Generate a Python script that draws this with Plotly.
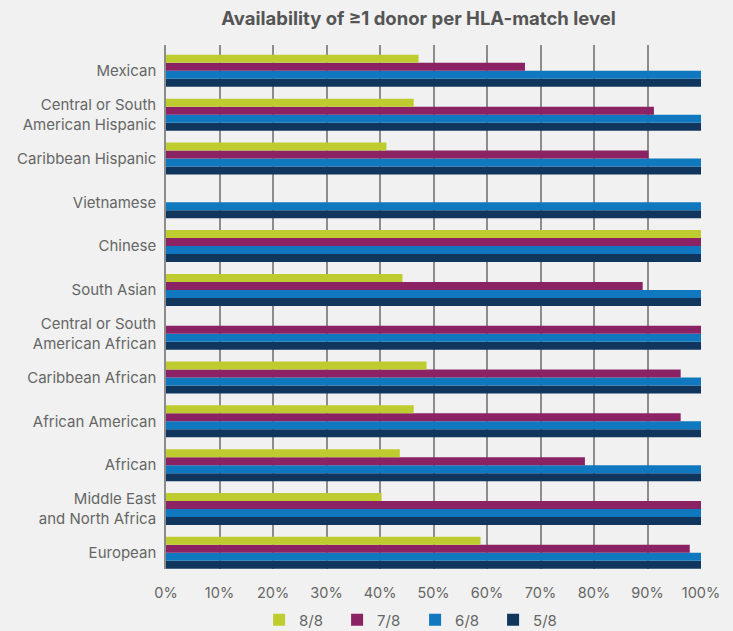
import plotly.graph_objects as go

categories = ["Mexican", "Central or South<br>American Hispanic", "Caribbean Hispanic",
              "Vietnamese", "Chinese", "South Asian", "Central or South<br>American African",
              "Caribbean African", "African American", "African",
              "Middle East<br>and North Africa", "European"]

m88 = [47.2, 46.3, 41.2, 0, 100, 44.2, 0, 48.7, 46.3, 43.7, 40.3, 58.8]
m78 = [67.1, 91.2, 90.2, 0, 100, 89.1, 100, 96.2, 96.2, 78.3, 100, 97.9]
m68 = [100, 100, 100, 100, 100, 100, 100, 100, 100, 100, 100, 100]
m58 = [100, 100, 100, 100, 100, 100, 100, 100, 100, 100, 100, 100]

series = [("5/8", m58, "#10365e"), ("6/8", m68, "#0f78be"),
          ("7/8", m78, "#8a2264"), ("8/8", m88, "#bfcc2f")]

cats_rev = categories[::-1]
fig = go.Figure()
for name, vals, color in series:
    fig.add_trace(go.Bar(
        y=cats_rev, x=[v / 100 for v in vals[::-1]], name=name, orientation="h",
        marker=dict(color=color, line=dict(width=0)),
    ))

font_family = "Inter, Roboto, sans-serif"
fig.update_layout(
    width=733, height=631,
    paper_bgcolor="#f0f1f0", plot_bgcolor="#f0f1f0",
    barmode="group", bargap=0.27, bargroupgap=0,
    margin=dict(l=166, r=32, t=45, b=62, autoexpand=False),
    title=dict(text="<b>Availability of ≥1 donor per HLA-match level</b>",
               x=(418.5 - 166) / 535, xref="paper", xanchor="center",
               y=1 - 18.5 / 631, yanchor="middle",
               font=dict(family=font_family, size=18.5, color="#555555")),
    font=dict(family=font_family, size=15, color="#666666"),
    xaxis=dict(range=[0, 1.0], tickformat=".0%", dtick=0.1, showgrid=True,
               gridcolor="#8c8c8c", gridwidth=1.5, zeroline=False,
               tickfont=dict(size=14.5, color="#666666"), ticks="", showline=False,
               ticklabelstandoff=13),
    yaxis=dict(range=[-0.37, 11.59], showgrid=False, ticks="",
               showline=True, linecolor="#8c8c8c", linewidth=1.5,
               tickfont=dict(size=15, color="#666666"), ticklabelstandoff=5),
    legend=dict(orientation="h", x=0.174, xanchor="left",
                yref="container", y=(631 - 620) / 631, yanchor="middle",
                traceorder="reversed", entrywidth=33, itemwidth=30,
                font=dict(size=15, color="#666666")),
)

fig.write_html("out.html", config={"displayModeBar": False},
               post_script="document.body.style.margin='0';document.body.style.background='#f0f1f0';")
